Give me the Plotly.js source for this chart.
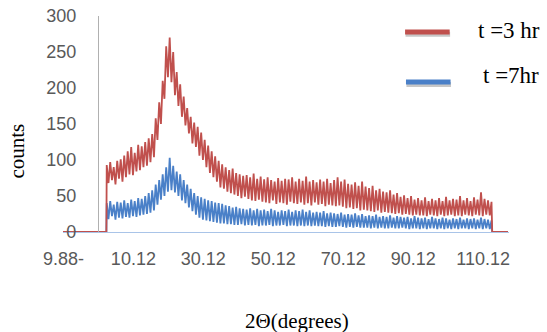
<!DOCTYPE html>
<html>
<head>
<meta charset="utf-8">
<script src="https://cdn.plot.ly/plotly-3.0.1.min.js"></script>
<style>html,body{margin:0;padding:0;background:#fff;}#chart{width:547px;height:332px;}</style>
</head>
<body>
<div id="chart"></div>
<script>
// 2-theta grid of the measured pattern (degrees)
const angleStart = 2.5;
const angleStep = 0.5;
// flat zero-count stretches before and after the scan
const leadAngles = [-10, 2.4];
const tailAngles = [112.7, 117.2];
const leadCounts = [0, 0];
const tailCounts = [0, 0];

// t = 3 hr counts (2.5 .. 112.5 deg)
const counts3hr = [
  93, 68, 97, 72, 90, 66, 99, 74, 101, 70,
  106, 76, 112, 80, 118, 79, 110, 84, 121, 86,
  119, 90, 125, 92, 130, 97, 136, 104, 158, 128,
  180, 150, 210, 185, 258, 215, 270, 208, 250, 190,
  222, 175, 205, 160, 188, 148, 172, 137, 160, 123,
  152, 118, 146, 106, 138, 100, 128, 90, 120, 82,
  112, 76, 105, 70, 99, 62, 94, 60, 90, 56,
  86, 54, 88, 52, 82, 50, 80, 47, 78, 49,
  79, 46, 76, 44, 81, 43, 74, 45, 77, 42,
  73, 41, 76, 40, 72, 44, 70, 39, 75, 41,
  71, 40, 74, 38, 73, 42, 76, 40, 70, 39,
  74, 41, 71, 38, 77, 40, 70, 37, 72, 41,
  69, 38, 73, 39, 70, 36, 74, 38, 68, 37,
  72, 36, 76, 37, 70, 35, 73, 33, 67, 34,
  66, 32, 69, 33, 64, 30, 70, 31, 63, 30,
  61, 29, 64, 28, 58, 30, 60, 27, 56, 28,
  55, 27, 58, 26, 52, 25, 54, 26, 49, 24,
  51, 25, 47, 24, 50, 23, 45, 24, 47, 23,
  44, 23, 48, 22, 43, 24, 46, 23, 44, 22,
  47, 24, 43, 22, 49, 23, 44, 24, 46, 22,
  45, 23, 50, 22, 44, 24, 47, 23, 43, 22,
  48, 24, 45, 23, 55, 22, 46, 24, 44, 23,
  42
];

// t = 7 hr counts (2.5 .. 112.5 deg)
const counts7hr = [
  40, 18, 43, 22, 38, 17, 42, 20, 41, 19,
  44, 21, 40, 20, 45, 22, 43, 21, 47, 23,
  46, 24, 50, 25, 54, 27, 58, 30, 66, 38,
  72, 45, 80, 50, 90, 56, 103, 58, 92, 55,
  84, 50, 80, 44, 72, 40, 66, 34, 60, 29,
  54, 24, 50, 20, 48, 17, 46, 16, 44, 15,
  43, 14, 41, 13, 40, 12, 39, 12, 37, 11,
  36, 11, 34, 10, 35, 10, 33, 11, 32, 9,
  31, 10, 33, 9, 30, 10, 32, 8, 30, 9,
  31, 9, 29, 10, 32, 8, 30, 9, 28, 9,
  30, 10, 29, 8, 31, 9, 28, 9, 30, 8,
  29, 9, 31, 8, 28, 9, 30, 8, 27, 9,
  28, 8, 27, 8, 29, 7, 26, 8, 27, 7,
  26, 7, 25, 8, 27, 7, 24, 6, 25, 7,
  24, 6, 26, 7, 23, 6, 25, 6, 22, 6,
  23, 5, 22, 6, 24, 5, 21, 6, 22, 5,
  21, 5, 23, 6, 20, 5, 22, 5, 21, 6,
  20, 5, 21, 4, 19, 5, 22, 5, 20, 4,
  19, 5, 20, 4, 18, 5, 21, 5, 19, 4,
  18, 5, 20, 4, 19, 5, 17, 4, 19, 5,
  18, 4, 20, 5, 17, 5, 19, 4, 18, 5,
  19, 4, 17, 5, 20, 4, 18, 5, 17, 4,
  16
];

const seriesNames = ['t =3 hr', 't =7hr'];
const xTickVals = [-9.88, 10.12, 30.12, 50.12, 70.12, 90.12, 110.12];
const xTickText = ['9.88-', '10.12', '30.12', '50.12', '70.12', '90.12', '110.12'];
const yTickVals = [0, 50, 100, 150, 200, 250, 300];

const gridAngles = counts3hr.map((_, i) => angleStart + i * angleStep);
const xs = leadAngles.concat(gridAngles, tailAngles);
const y3 = leadCounts.concat(counts3hr, tailCounts);
const y7 = leadCounts.concat(counts7hr, tailCounts);

const RED = '#c0504d';
const BLUE = '#4a80c8';

const traces = [
  {x: xs, y: y7, type: 'scatter', mode: 'lines', name: seriesNames[1],
   line: {color: BLUE, width: 1.8}},
  {x: xs, y: y3, type: 'scatter', mode: 'lines', name: seriesNames[0],
   line: {color: RED, width: 1.8}}
];

const xMin = -10, xMax = 117.5;
const yAxisPos = (0 - xMin) / (xMax - xMin);

const layout = {
  width: 547, height: 332,
  margin: {l: 63, r: 38, t: 16, b: 100, pad: 0},
  paper_bgcolor: '#ffffff', plot_bgcolor: '#ffffff',
  showlegend: false,
  font: {family: 'Liberation Sans, Arial, sans-serif', color: '#595959', size: 18},
  xaxis: {
    range: [xMin, xMax], tickmode: 'array', tickvals: xTickVals, ticktext: xTickText,
    showgrid: false, zeroline: false, showline: true, linecolor: '#a9c4e8', linewidth: 1,
    ticks: 'outside', ticklen: 10, tickcolor: 'rgba(0,0,0,0)',
    tickfont: {size: 18, color: '#595959'}
  },
  yaxis: {
    range: [0, 300], tickmode: 'array', tickvals: yTickVals,
    anchor: 'free', position: yAxisPos,
    showgrid: false, zeroline: false, showline: true, linecolor: '#b0b0b0', linewidth: 1,
    ticks: 'outside', ticklen: 18, tickcolor: 'rgba(0,0,0,0)',
    tickfont: {size: 18, color: '#595959'}
  },
  shapes: [
    {type: 'line', xref: 'paper', yref: 'paper', x0: 0.768, x1: 0.868, y0: 0.915, y1: 0.915,
     line: {color: 'rgba(0,0,0,0.22)', width: 5}},
    {type: 'line', xref: 'paper', yref: 'paper', x0: 0.767, x1: 0.867, y0: 0.926, y1: 0.926,
     line: {color: RED, width: 5}},
    {type: 'line', xref: 'paper', yref: 'paper', x0: 0.770, x1: 0.870, y0: 0.683, y1: 0.683,
     line: {color: 'rgba(0,0,0,0.22)', width: 5}},
    {type: 'line', xref: 'paper', yref: 'paper', x0: 0.769, x1: 0.869, y0: 0.694, y1: 0.694,
     line: {color: BLUE, width: 5}}
  ],
  annotations: [
    {text: seriesNames[0], xref: 'paper', yref: 'paper', x: 0.926, y: 0.935,
     xanchor: 'left', yanchor: 'middle', showarrow: false,
     font: {family: 'Liberation Serif, Times New Roman, serif', size: 23, color: '#000'}},
    {text: seriesNames[1], xref: 'paper', yref: 'paper', x: 0.937, y: 0.725,
     xanchor: 'left', yanchor: 'middle', showarrow: false,
     font: {family: 'Liberation Serif, Times New Roman, serif', size: 23, color: '#000'}},
    {text: 'counts', xref: 'paper', yref: 'paper', x: -0.104, y: 0.375,
     xanchor: 'center', yanchor: 'middle', showarrow: false, textangle: -90,
     font: {family: 'Liberation Serif, Times New Roman, serif', size: 21, color: '#000'}},
    {text: '2Θ(degrees)', xref: 'paper', yref: 'paper', x: 0.524, y: -0.41,
     xanchor: 'center', yanchor: 'middle', showarrow: false,
     font: {family: 'Liberation Serif, Times New Roman, serif', size: 21, color: '#000'}}
  ]
};

Plotly.newPlot('chart', traces, layout, {staticPlot: true, displayModeBar: false});
</script>
</body>
</html>
